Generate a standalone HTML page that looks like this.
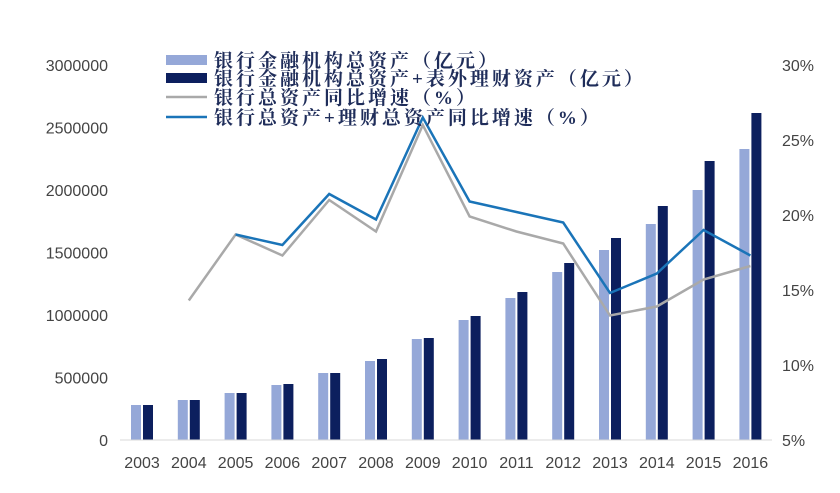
<!DOCTYPE html>
<html><head><meta charset="utf-8"><style>
body{margin:0;background:#fff;}
svg{display:block;}
.ax{font-family:"Liberation Sans",sans-serif;font-size:16px;fill:#444;}
.lg{font-family:"Liberation Serif","Noto Serif CJK SC",serif;font-size:19px;font-weight:bold;fill:#1f2d5a;letter-spacing:3px;}
</style></head><body>
<svg id="c" width="840" height="493"></svg>
<script>
const years=["2003","2004","2005","2006","2007","2008","2009","2010","2011","2012","2013","2014","2015","2016"];
const bankAssets=[280000,320000,376000,440000,536000,632000,808000,960000,1136000,1344000,1520000,1728000,2000000,2328000];
const bankPlusWM=[280000,320000,376000,448000,536000,648000,816000,992000,1184000,1416000,1616000,1872000,2232000,2616000];
const growthBank=[null,14.3,18.7,17.3,21.0,18.9,26.0,19.9,18.9,18.1,13.3,13.9,15.7,16.6];
const growthBankWM=[null,null,18.7,18.0,21.4,19.7,26.5,20.9,20.2,19.5,14.8,16.1,19.0,17.3];
const leftTicks=[0,500000,1000000,1500000,2000000,2500000,3000000];
const rightTicks=[5,10,15,20,25,30];
const NS="http://www.w3.org/2000/svg";
const svg=document.getElementById('c');
const base=440,topY=65;
const yL=v=>base-(v/3000000)*(base-topY);
const yR=v=>base-((v-5)/25)*(base-topY);
const xC=i=>142+i*46.8;
function mk(t,a){const e=document.createElementNS(NS,t);for(const k in a)e.setAttribute(k,a[k]);svg.appendChild(e);return e;}
leftTicks.forEach(v=>{const t=mk('text',{x:108,y:yL(v)+6,'text-anchor':'end',class:'ax'});t.textContent=v;

});
rightTicks.forEach(v=>{const t=mk('text',{x:782,y:yR(v)+6,class:'ax'});t.textContent=v+'%';

});
years.forEach((y,i)=>{const t=mk('text',{x:xC(i),y:468,'text-anchor':'middle',class:'ax'});t.textContent=y;

});
years.forEach((y,i)=>{
const a=mk('rect',{x:xC(i)-11,y:yL(bankAssets[i]),width:10,height:base-yL(bankAssets[i]),fill:'#95a8d8'});


const b=mk('rect',{x:xC(i)+1,y:yL(bankPlusWM[i]),width:10,height:base-yL(bankPlusWM[i]),fill:'#0c1f5e'});


});
const ax=mk('line',{x1:120,x2:772,y1:base,y2:base,stroke:'#d8d8d8','stroke-width':1});


function line(arr,col,name){let d='';arr.forEach((v,i)=>{if(v==null)return;d+=(d?'L':'M')+xC(i)+','+yR(v);});
const p=mk('path',{d:d,fill:'none',stroke:col,'stroke-width':2.5,'stroke-linejoin':'miter'});

}
line(growthBank,'#a9a9a9','line-bank-growth');
line(growthBankWM,'#1a74b8','line-bank-wm-growth');
const legend=[["rect","#95a8d8","银行金融机构总资产（亿元）"],["rect","#0c1f5e","银行金融机构总资产+表外理财资产（亿元）"],["line","#a9a9a9","银行总资产同比增速（%）"],["line","#1a74b8","银行总资产+理财总资产同比增速（%）"]];
const ly=[60,78,97,117];
legend.forEach((l,i)=>{
let s;
if(l[0]=="rect")s=mk('rect',{x:166,y:ly[i]-5,width:41,height:10,fill:l[1]});
else s=mk('line',{x1:166,x2:207,y1:ly[i],y2:ly[i],stroke:l[1],'stroke-width':2.5});


const t=mk('text',{x:214,y:ly[i]+7,class:'lg'});t.textContent=l[2];


});
</script>
</body></html>
